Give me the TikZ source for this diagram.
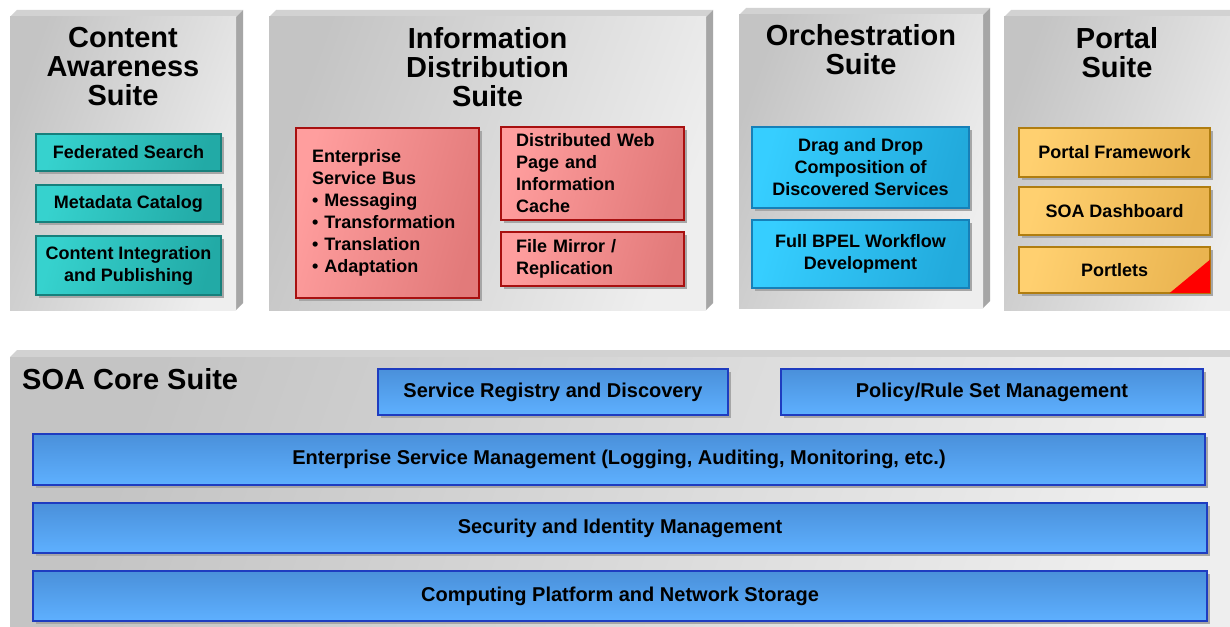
\documentclass[tikz,border=0pt]{standalone}
\usepackage{fontspec}
\setmainfont{Liberation Sans}
\usetikzlibrary{shadows}
\definecolor{bevtop}{HTML}{D2D2D2}
\definecolor{bevside}{HTML}{A6A6A6}
\definecolor{faceA}{HTML}{C4C4C4}
\definecolor{faceB}{HTML}{EEEEEE}
\definecolor{tealA}{HTML}{36D2CE}
\definecolor{tealB}{HTML}{22AAA6}
\definecolor{tealE}{HTML}{16807C}
\definecolor{pinkA}{HTML}{FF9E9E}
\definecolor{pinkB}{HTML}{E27A7A}
\definecolor{pinkE}{HTML}{A81010}
\definecolor{cyanA}{HTML}{36CEFF}
\definecolor{cyanB}{HTML}{22AADC}
\definecolor{cyanE}{HTML}{1680B8}
\definecolor{yelA}{HTML}{FFD070}
\definecolor{yelB}{HTML}{EAB450}
\definecolor{yelE}{HTML}{B07D10}
\definecolor{bluA}{HTML}{4A90DA}
\definecolor{bluB}{HTML}{5EB0FF}
\definecolor{bluE}{HTML}{1E3CC0}
\newcommand{\titlef}{\fontsize{29}{29}\selectfont\bfseries}
\newcommand{\boxf}{\fontsize{18}{22}\selectfont\bfseries}
\newcommand{\coref}{\fontsize{20}{22}\selectfont\bfseries}
\newcommand{\suitepanel}[4]{%
  \fill[bevtop] (#1,#2+7) -- (#1+7,#2) -- (#3+7,#2) -- (#3,#2+7) -- cycle;
  \fill[bevside] (#3,#2+7) -- (#3+7,#2) -- (#3+7,#4-7) -- (#3,#4) -- cycle;
  \shade[left color=faceA, right color=faceB, shading angle=70] (#1,#2+7) rectangle (#3,#4);
}
\tikzset{
  boxbase/.style={rectangle, inner sep=0pt, line width=1.4pt, align=center, font=\boxf,
    drop shadow={shadow xshift=3pt, shadow yshift=-3pt, fill=black!35, opacity=1}},
  tealbox/.style={boxbase, draw=tealE, left color=tealA, right color=tealB, shading angle=75},
  pinkbox/.style={boxbase, draw=pinkE, left color=pinkA, right color=pinkB, shading angle=75},
  cyanbox/.style={boxbase, draw=cyanE, left color=cyanA, right color=cyanB, shading angle=75},
  yelbox/.style={boxbase, draw=yelE, left color=yelA, right color=yelB, shading angle=75},
  corebox/.style={boxbase, draw=bluE, top color=bluA, bottom color=bluB, font=\coref},
  suitetitle/.style={inner sep=0pt, align=center, font=\titlef, anchor=north},
}
\begin{document}
\begin{tikzpicture}[x=1pt, y=-1pt]
\useasboundingbox (0,0) rectangle (1230,626);
\fill[white] (0,0) rectangle (1230,626);
\clip (0,0) rectangle (1230,626);

% suite panels
\suitepanel{10}{10}{236}{310}
\suitepanel{269}{10}{706}{310}
\suitepanel{739}{8}{983}{308}
\suitepanel{1004}{10}{1245}{310}
\suitepanel{10}{350}{1245}{645}

% titles
\node[suitetitle] (tca) at (123,27.5) {Content\\Awareness\\Suite};
\node[suitetitle] (tid) at (487.5,27.5) {Information\\Distribution\\Suite};
\node[suitetitle] (tor) at (861,24.5) {Orchestration\\Suite};
\node[suitetitle] (tpo) at (1117,27.5) {Portal\\Suite};
\node[inner sep=0pt, anchor=base west, font=\titlef] (tcore) at (22,389) {SOA Core Suite};

% content awareness
\node[tealbox, minimum width=185, minimum height=37] (fed) at (128.5,152.5) {Federated Search};
\node[tealbox, minimum width=185, minimum height=37] (meta) at (128.5,203.5) {Metadata Catalog};
\node[tealbox, minimum width=185, minimum height=59] (cip) at (128.5,265.5) {Content Integration\\and Publishing};

% information distribution
\node[pinkbox, minimum width=183, minimum height=170, text width=151, inner xsep=16pt, align=left] (esb) at (387.5,213)
  {Enterprise\\Service Bus\\\textbullet\ Messaging\\\textbullet\ Transformation\\\textbullet\ Translation\\\textbullet\ Adaptation};
\node[pinkbox, minimum width=183, minimum height=93, text width=153, inner xsep=15pt, align=left] (dwp) at (592.5,173.5)
  {Distributed Web\\Page and\\Information\\Cache};
\node[pinkbox, minimum width=183, minimum height=54, text width=153, inner xsep=15pt, align=left] (fmr) at (592.5,259)
  {File Mirror /\\Replication};

% orchestration
\node[cyanbox, minimum width=217, minimum height=81] (dnd) at (860.5,167.5) {Drag and Drop\\Composition of\\Discovered Services};
\node[cyanbox, minimum width=217, minimum height=68] (bpel) at (860.5,254) {Full BPEL Workflow\\Development};

% portal
\node[yelbox, minimum width=191, minimum height=49] (pf) at (1114.5,152.5) {Portal Framework};
\node[yelbox, minimum width=191, minimum height=48] (sd) at (1114.5,211) {SOA Dashboard};
\node[yelbox, minimum width=191, minimum height=46] (pl) at (1114.5,270) {Portlets};
\fill[red] ([xshift=-0.7pt,yshift=0.7pt]pl.south east) -- ([xshift=-41pt,yshift=0.7pt]pl.south east) -- ([xshift=-0.7pt,yshift=34pt]pl.south east) -- cycle;

% core
\node[corebox, minimum width=350, minimum height=46] (srd) at (553,392) {Service Registry and Discovery};
\node[corebox, minimum width=422, minimum height=46] (prs) at (992,392) {Policy/Rule Set Management};
\node[corebox, minimum width=1172, minimum height=51] (esm) at (619,459.5) {Enterprise Service Management (Logging, Auditing, Monitoring, etc.)};
\node[corebox, minimum width=1174, minimum height=50] (sim) at (620,528) {Security and Identity Management};
\node[corebox, minimum width=1174, minimum height=50] (cpn) at (620,596) {Computing Platform and Network Storage};
\end{tikzpicture}
\end{document}
